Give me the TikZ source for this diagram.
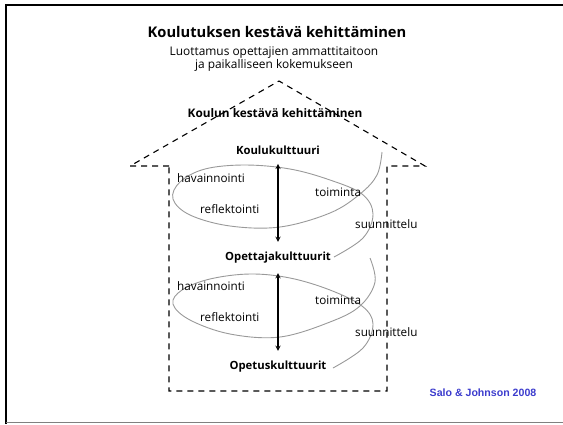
\documentclass[tikz,border=0pt]{standalone}
\usepackage{fontspec}
\setmainfont{Open Sans}
\newfontfamily\arialfont{Liberation Sans}
\definecolor{viite}{RGB}{60,60,205}
\tikzset{
        otsikko/.style={font=\bfseries\fontsize{14.7}{16}\selectfont},
        alaotsikko/.style={font=\fontsize{11.9}{13}\selectfont, align=center, inner sep=1pt},
        kulttuuri/.style={font=\bfseries\fontsize{11.3}{12}\selectfont},
        vaihe/.style={font=\fontsize{11.7}{12}\selectfont, anchor=west, inner sep=1pt},
        talo/.style={line width=1.1pt, dash pattern=on 6pt off 5pt},
        kierre/.style={gray!80, line width=0.9pt},
        nuoli/.style={<->, >=stealth, line width=1.3pt}
}
\begin{document}
\begin{tikzpicture}[x=1pt, y=-1pt]
        \useasboundingbox (0,0) rectangle (563,424);
        % kehys
        \draw[line width=2.5pt] (6,424) -- (6,5) -- (563,5);
        \draw[gray, line width=1.5pt] (6,422.5) -- (563,422.5);
        % otsikot
        \node[otsikko] (otsikko) at (277,32) {Koulutuksen kestävä kehittäminen};
        \node[alaotsikko] (luottamus) at (274,59) {Luottamus opettajien ammattitaitoon\\[-0.5pt]ja paikalliseen kokemukseen};
        % talo
        \draw[talo] (169,166) -- (130,166) -- (279,81) -- (425,166) -- (387,166) -- (387,391) -- (169,391) -- cycle;
        \node[kulttuuri, font=\bfseries\fontsize{11.8}{13}\selectfont] (koulun) at (275,113) {Koulun kestävä kehittäminen};
        \node[kulttuuri] (koulu) at (278,150) {Koulukulttuuri};
        \node[kulttuuri] (opettaja) at (278,258) {Opettajakulttuurit};
        \node[kulttuuri] (opetus) at (278,367) {Opetuskulttuurit};
        % kierteet
        \draw[kierre] plot[smooth, tension=0.6] coordinates {(382,152) (377,175) (360,194) (330,213) (280,227) (230,226) (190,215) (173,199) (180,182) (205,169) (245,165) (290,169) (330,180) (362,194) (373,214) (363,238) (334,257)};
        \draw[kierre] plot[smooth, tension=0.6] coordinates {(370,258) (375,282) (360,306) (330,322) (280,337) (230,334) (190,320) (173,304) (182,290) (210,279) (250,274) (290,278) (330,290) (362,306) (373,324) (363,348) (333,368)};
        \foreach \t/\dy in {1/0, 2/108} {
                \scoped[shift={(0,\dy)}]{
                        \node[vaihe] (hav\t) at (176,178) {havainnointi};
                        \node[vaihe] (toi\t) at (314,192) {toiminta};
                        \node[vaihe] (ref\t) at (199,209) {reflektointi};
                        \node[vaihe] (suu\t) at (354,224) {suunnittelu};
                };
        }
        \draw[nuoli, shorten <=6pt, shorten >=7pt] (koulu.south) -- (opettaja.north);
        \draw[nuoli, shorten <=6pt, shorten >=7pt] (opettaja.south) -- (opetus.north);
        % lähde
        \node[font=\arialfont\bfseries\fontsize{10.6}{12}\selectfont, text=viite] (salo) at (483,393) {Salo \& Johnson 2008};
\end{tikzpicture}
\end{document}
